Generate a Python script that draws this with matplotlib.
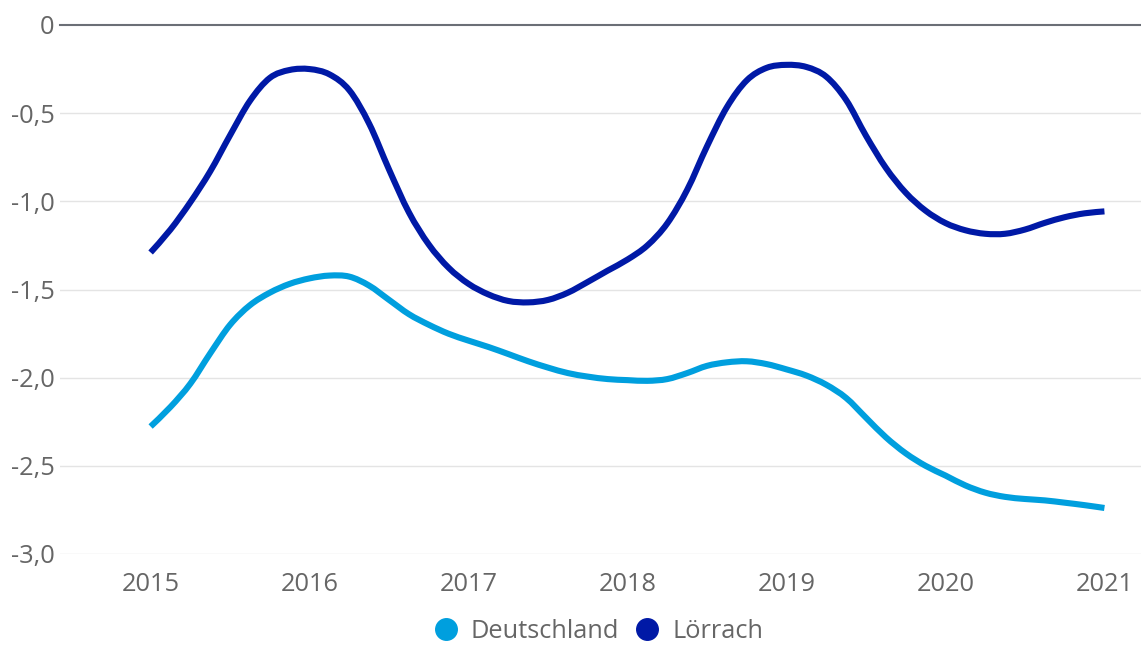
import matplotlib
matplotlib.use("Agg")
import matplotlib.pyplot as plt
from matplotlib.path import Path
from matplotlib.patches import PathPatch

plt.rcParams['font.family'] = ['Open Sans', 'DejaVu Sans']

# readings every 1/8 year
jahre = [2015 + i / 8 for i in range(49)]
deutschland = [-2.277, -2.166, -2.034, -1.862, -1.700, -1.589, -1.518, -1.468,
               -1.437, -1.421, -1.427, -1.478, -1.559, -1.640, -1.700, -1.751,
               -1.790, -1.826, -1.866, -1.907, -1.943, -1.974, -1.994, -2.008,
               -2.014, -2.018, -2.008, -1.974, -1.933, -1.913, -1.907, -1.923,
               -1.953, -1.988, -2.040, -2.115, -2.227, -2.338, -2.429, -2.500,
               -2.555, -2.611, -2.652, -2.676, -2.688, -2.696, -2.709, -2.723,
               -2.739]
loerrach = [-1.290, -1.160, -1.005, -0.830, -0.625, -0.430, -0.300, -0.255,
            -0.250, -0.280, -0.370, -0.560, -0.820, -1.063, -1.245, -1.377,
            -1.468, -1.528, -1.565, -1.573, -1.559, -1.518, -1.457, -1.393,
            -1.330, -1.250, -1.125, -0.935, -0.688, -0.466, -0.314, -0.243,
            -0.226, -0.238, -0.293, -0.425, -0.628, -0.810, -0.951, -1.053,
            -1.123, -1.164, -1.184, -1.184, -1.160, -1.122, -1.090, -1.068,
            -1.057]

x_ticks = [2015, 2016, 2017, 2018, 2019, 2020, 2021]
y_ticks = [0, -0.5, -1.0, -1.5, -2.0, -2.5, -3.0]
y_labels = ['0', '-0,5', '-1,0', '-1,5', '-2,0', '-2,5', '-3,0']

farbe_de = '#009fde'
farbe_lo = '#0019a6'
grau = '#666666'


def glatte_linie(ax, xs, ys, farbe):
    # curve through the points (catmull-rom as bezier segments)
    n = len(xs)
    verts = [(xs[0], ys[0])]
    codes = [Path.MOVETO]
    for i in range(n - 1):
        i0 = max(i - 1, 0)
        i3 = min(i + 2, n - 1)
        c1 = (xs[i] + (xs[i + 1] - xs[i0]) / 6, ys[i] + (ys[i + 1] - ys[i0]) / 6)
        c2 = (xs[i + 1] - (xs[i3] - xs[i]) / 6, ys[i + 1] - (ys[i3] - ys[i]) / 6)
        verts += [c1, c2, (xs[i + 1], ys[i + 1])]
        codes += [Path.CURVE4] * 3
    patch = PathPatch(Path(verts, codes), fill=False, edgecolor=farbe, lw=4.4,
                      capstyle='butt', joinstyle='round', zorder=3)
    ax.add_patch(patch)


fig = plt.figure(figsize=(11.41, 6.45), dpi=100)
ax = fig.add_axes([60 / 1141, 1 - 554 / 645, 1 - 60 / 1141, 529 / 645])

for y in y_ticks[1:]:
    ax.axhline(y, color='#e4e4e4', lw=1.0, zorder=1)
ax.axhline(0, color='#6b6f76', lw=1.5, zorder=2, clip_on=False)

glatte_linie(ax, jahre, deutschland, farbe_de)
glatte_linie(ax, jahre, loerrach, farbe_lo)

ax.set_xlim(2014.43, 2021.23)
ax.set_ylim(-3.0, 0)
ax.set_xticks(x_ticks)
ax.set_xticklabels([str(j) for j in x_ticks])
ax.set_yticks(y_ticks)
ax.set_yticklabels(y_labels)
ax.tick_params(axis='both', length=0, labelsize=18.3, labelcolor=grau)
ax.tick_params(axis='x', pad=13)
ax.tick_params(axis='y', pad=4)
for s in ax.spines.values():
    s.set_visible(False)

handles = [plt.Line2D([], [], marker='o', ls='none', ms=15.5, color=farbe_de),
           plt.Line2D([], [], marker='o', ls='none', ms=15.5, color=farbe_lo)]
leg = ax.legend(handles, ['Deutschland', 'Lörrach'], loc='center',
                bbox_to_anchor=(0.498, -0.1456), ncol=2, frameon=False,
                fontsize=18.3, handletextpad=0.5, columnspacing=0.6,
                handlelength=1.0, borderpad=0, borderaxespad=0)
for t in leg.get_texts():
    t.set_color(grau)

fig.savefig('out.png', dpi=100, facecolor='white')
